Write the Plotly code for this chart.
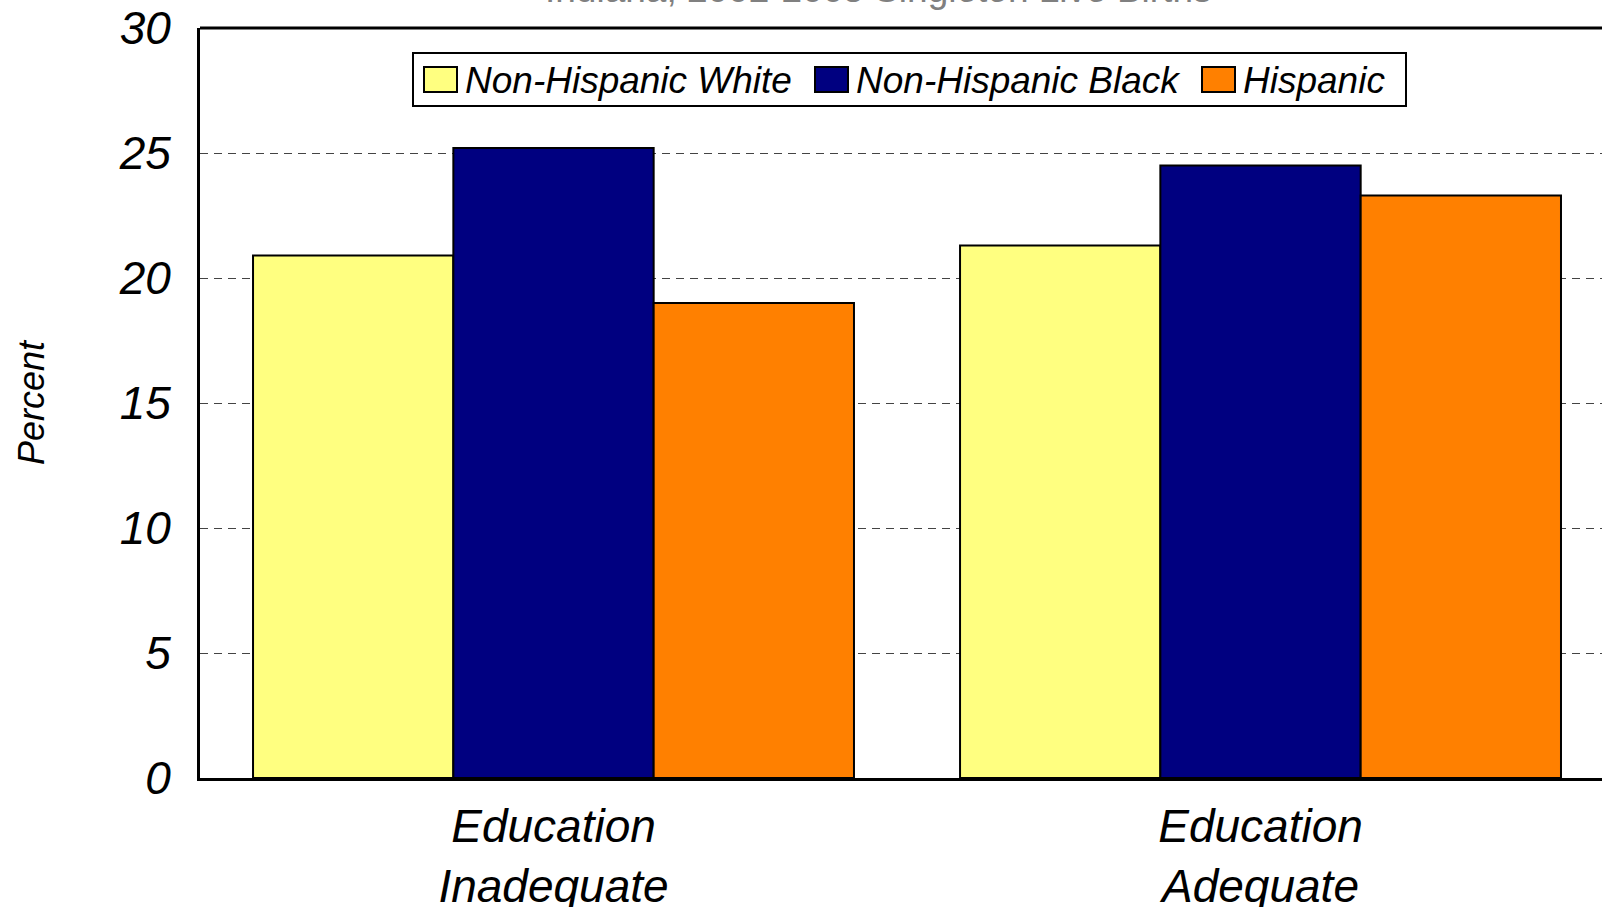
import plotly.graph_objects as go

categories = ["Education<br>Inadequate", "Education<br>Adequate"]
series_names = ["Non-Hispanic White", "Non-Hispanic Black", "Hispanic"]
white_values = [20.9, 21.3]
black_values = [25.2, 24.5]
hispanic_values = [19.0, 23.3]
y_tick_values = [0, 5, 10, 15, 20, 25, 30]
title_text = "Indiana, 2002-2005 Singleton Live Births"

colors = ["#FFFF80", "#000080", "#FF8000"]
series_values = [white_values, black_values, hispanic_values]

W, H = 1602, 907
ML, MT, MB = 200, 28, 129
plot_w = W - ML
plot_h = H - MT - MB


def px_x(p):
    return (p - ML) / plot_w


def px_y(p):
    return (H - MB - p) / plot_h


fig = go.Figure()
for name, vals, col in zip(series_names, series_values, colors):
    fig.add_trace(go.Bar(
        x=[0, 1], y=vals, name=name, showlegend=False,
        marker=dict(color=col, line=dict(color="black", width=2)),
    ))

# manual legend (box, swatches, labels)
shapes = [
    dict(type="line", xref="paper", yref="paper", x0=0, x1=1, y0=1, y1=1,
         line=dict(color="black", width=3)),
    dict(type="rect", xref="paper", yref="paper",
         x0=px_x(413), x1=px_x(1406), y0=px_y(106), y1=px_y(53),
         line=dict(color="black", width=2), fillcolor="white", layer="above"),
]
annotations = []
swatch_x = [424, 815, 1202]
for sx, name, col in zip(swatch_x, series_names, colors):
    shapes.append(dict(type="rect", xref="paper", yref="paper",
                       x0=px_x(sx), x1=px_x(sx + 33), y0=px_y(92), y1=px_y(67),
                       line=dict(color="black", width=2), fillcolor=col, layer="above"))
    annotations.append(dict(text=name, xref="paper", yref="paper",
                            x=px_x(sx + 39), y=px_y(80), xanchor="left", yanchor="middle",
                            showarrow=False, font=dict(size=37, style="italic", color="black")))

annotations.append(dict(
    text=title_text, xref="paper", yref="paper", x=px_x(878), y=px_y(12),
    xanchor="center", yanchor="bottom", showarrow=False,
    font=dict(size=37, color="#808080"),
))

fig.update_layout(
    width=W, height=H,
    margin=dict(l=ML, r=0, t=MT, b=MB, pad=0),
    paper_bgcolor="white", plot_bgcolor="white",
    barmode="group", bargap=0.15, bargroupgap=0,
    font=dict(family="Liberation Sans, Arial, sans-serif", color="black"),
    showlegend=False,
    xaxis=dict(
        range=[-0.5, 1.483], tickmode="array", tickvals=[0, 1], ticktext=categories,
        showline=True, linecolor="black", linewidth=3, ticks="", showgrid=False,
        tickfont=dict(size=46, style="italic"), ticklabelstandoff=6,
        zeroline=False, automargin=False,
    ),
    yaxis=dict(
        range=[0, 30], tickmode="array", tickvals=y_tick_values,
        showline=True, linecolor="black", linewidth=3, ticks="",
        showgrid=True, gridcolor="#444", gridwidth=1, griddash="8px,6px",
        tickfont=dict(size=46, style="italic"), ticklabelstandoff=17,
        zeroline=False, automargin=False,
        title=dict(text="Percent", font=dict(size=36, style="italic"), standoff=64),
    ),
    shapes=shapes,
    annotations=annotations,
)

fig.write_html("out.html", config={"displayModeBar": False},
               post_script="document.body.style.margin='0';")
